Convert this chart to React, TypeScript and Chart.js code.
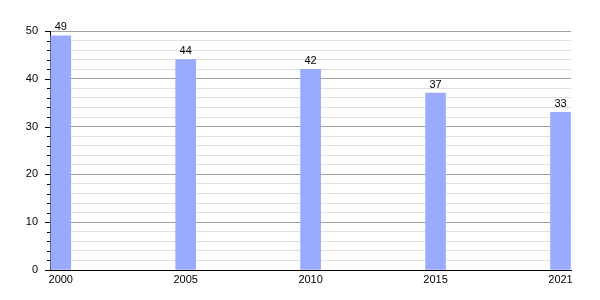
import React, { useEffect, useRef } from "react";
import { Chart, registerables } from "chart.js";

Chart.register(...registerables);

const years = ["2000", "2005", "2010", "2015", "2021"];
const values = [49, 44, 42, 37, 33];
const yMax = 50;
const yStep = 2;
const majorStep = 10;

const FONT = "'Liberation Sans', Arial, sans-serif";

const tickPlugin = {
  id: "yTicksAndLabels",
  afterDatasetsDraw(chart: any) {
    const { ctx } = chart;
    const y = chart.scales.y;
    const left = chart.chartArea.left;
    ctx.save();
    ctx.strokeStyle = "#000";
    ctx.lineWidth = 1;
    y.ticks.forEach((t: any) => {
      const py = Math.round(y.getPixelForValue(t.value)) + 0.5;
      const len = t.value % majorStep === 0 ? 5 : 3;
      ctx.beginPath();
      ctx.moveTo(left - len, py);
      ctx.lineTo(left, py);
      ctx.stroke();
    });
    ctx.fillStyle = "#000";
    ctx.font = `11px ${FONT}`;
    ctx.textAlign = "center";
    ctx.textBaseline = "bottom";
    const meta = chart.getDatasetMeta(0);
    meta.data.forEach((bar: any, i: number) => {
      ctx.fillText(String(values[i]), bar.x, bar.y - 3);
    });
    ctx.restore();
  },
};

export default function App() {
  const ref = useRef<HTMLCanvasElement>(null);
  useEffect(() => {
    document.body.style.margin = "0";
    const chart = new Chart(ref.current!, {
      type: "bar",
      data: {
        datasets: [
          {
            data: values.map((v, i) => ({ x: i, y: v })),
            backgroundColor: "#9aabff",
            barThickness: 20,
          },
        ],
      },
      options: {
        animation: false,
        responsive: false,
        maintainAspectRatio: false,
        layout: { padding: { top: 31, right: 29, left: 0, bottom: 0 } },
        plugins: { legend: { display: false }, tooltip: { enabled: false } },
        scales: {
          x: {
            type: "linear",
            offset: false,
            min: -0.086,
            max: 4.084,
            grid: { display: false, drawTicks: false },
            border: { color: "#000", width: 1 },
            afterBuildTicks: (scale: any) => {
              scale.ticks = years.map((_, i) => ({ value: i }));
            },
            afterFit: (scale: any) => {
              scale.height = 30;
            },
            ticks: {
              autoSkip: false,
              maxRotation: 0,
              padding: 3,
              color: "#000",
              font: { family: FONT, size: 11 },
              callback: (v: any) => years[v] ?? "",
            },
          },
          y: {
            min: 0,
            max: yMax,
            afterBuildTicks: (scale: any) => {
              const t = [];
              for (let v = 0; v <= yMax; v += yStep) t.push({ value: v });
              scale.ticks = t;
            },
            afterFit: (scale: any) => {
              scale.width = 50;
            },
            border: { color: "#000", width: 1 },
            grid: {
              drawTicks: false,
              color: (c: any) =>
                c.tick && c.tick.value % majorStep === 0 ? "#a0a0a0" : "#e0e0e0",
            },
            ticks: {
              autoSkip: false,
              padding: 12,
              color: "#000",
              font: { family: FONT, size: 11 },
              callback: (v: any) => (v % majorStep === 0 ? String(v) : ""),
            },
          },
        },
      },
      plugins: [tickPlugin],
    });
    return () => chart.destroy();
  }, []);
  return (
    <div style={{ position: "absolute", left: 0, top: 0, width: 600, height: 300 }}>
      <canvas ref={ref} width={600} height={300} />
    </div>
  );
}
